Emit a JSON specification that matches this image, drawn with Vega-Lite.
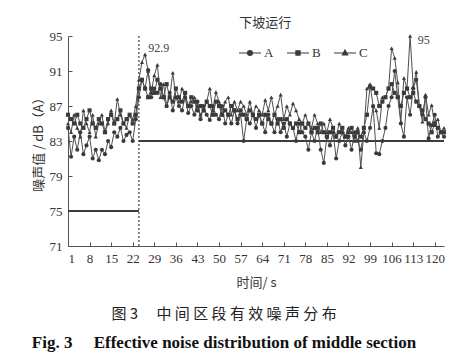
{
"$schema":"https://vega.github.io/schema/vega-lite/v6.json",
"width":376,"height":210,
"autosize":"none",
"padding":{"left":68,"top":36,"right":23,"bottom":110},
"background":"white",
"config":{"view":{"stroke":null},"font":"Liberation Serif",
 "axis":{"grid":false,"tickSize":-4,"labelOverlap":false,"labelFontSize":13,"labelFont":"Liberation Serif","labelColor":"#333","titleFontSize":13,"titleFont":"Noto Sans CJK SC","titleFontWeight":"normal","titleColor":"#333","domainColor":"#555","tickColor":"#555"},
 "axisX":{"labelPadding":10,"titlePadding":11},
 "axisY":{"labelPadding":10,"titlePadding":4}},
"title":{"text":"图 3\u3000 中 间 区 段 有 效 噪 声 分 布","subtitle":"Fig. 3\u2003\u00a0Effective noise distribution of middle section","orient":"bottom","anchor":"middle","frame":"bounds","offset":18,"dx":-15,"font":"Noto Sans CJK SC","fontSize":15,"fontWeight":"normal","color":"#222","subtitleFont":"Liberation Serif","subtitleFontSize":17,"subtitleFontWeight":"bold","subtitleColor":"#111","subtitlePadding":13},
"datasets":{"noise":[
{"t":1,"A":84.5,"B":86,"C":85},{"t":2,"A":81.2,"B":85.5,"C":84},{"t":3,"A":83.5,"B":85,"C":86},{"t":4,"A":82,"B":86,"C":84.5},{"t":5,"A":84,"B":85,"C":83.5},
{"t":6,"A":81.5,"B":84.5,"C":86.5},{"t":7,"A":82.5,"B":85.5,"C":85},{"t":8,"A":83.5,"B":86.5,"C":84},{"t":9,"A":81,"B":85,"C":86},{"t":10,"A":82,"B":84.5,"C":83.5},
{"t":11,"A":80.8,"B":85.5,"C":85},{"t":12,"A":82,"B":85,"C":86},{"t":13,"A":81.5,"B":84,"C":84},{"t":14,"A":83,"B":85.5,"C":85},{"t":15,"A":82.3,"B":86,"C":86.5},
{"t":16,"A":84,"B":85,"C":85},{"t":17,"A":83.5,"B":85.5,"C":87.8},{"t":18,"A":84.5,"B":86.5,"C":86},{"t":19,"A":83,"B":85,"C":85},{"t":20,"A":83.7,"B":85.5,"C":84.5},
{"t":21,"A":84,"B":86,"C":86},{"t":22,"A":83,"B":85,"C":85.5},{"t":23,"A":85.5,"B":86,"C":87},{"t":24,"A":88,"B":89,"C":90},{"t":25,"A":90,"B":90,"C":92},
{"t":26,"A":89,"B":89,"C":92.9},{"t":27,"A":91.1,"B":88,"C":91},{"t":28,"A":88,"B":89,"C":88.5},{"t":29,"A":89,"B":88.5,"C":90.5},{"t":30,"A":88.5,"B":90,"C":91.7},
{"t":31,"A":89.5,"B":89,"C":88},{"t":32,"A":88,"B":88,"C":89.5},{"t":33,"A":87,"B":89.5,"C":87},{"t":34,"A":88.5,"B":88,"C":88},{"t":35,"A":86.5,"B":87.5,"C":90.8},
{"t":36,"A":88,"B":89,"C":88},{"t":37,"A":87,"B":88,"C":87.5},{"t":38,"A":86.5,"B":87.5,"C":89},{"t":39,"A":88,"B":88.5,"C":88},{"t":40,"A":86.2,"B":87,"C":87},
{"t":41,"A":87,"B":88,"C":87.5},{"t":42,"A":86,"B":87.5,"C":88},{"t":43,"A":87.5,"B":86.5,"C":87},{"t":44,"A":85.5,"B":87,"C":86},{"t":45,"A":87,"B":86.5,"C":86.5},
{"t":46,"A":86,"B":87.5,"C":87.5},{"t":47,"A":85.4,"B":87,"C":89},{"t":48,"A":87,"B":86,"C":86.5},{"t":49,"A":86,"B":87.5,"C":88.6},{"t":50,"A":85.5,"B":87,"C":87.5},
{"t":51,"A":87,"B":86,"C":86},{"t":52,"A":85,"B":86.5,"C":87.5},{"t":53,"A":86,"B":86,"C":88},{"t":54,"A":85,"B":87,"C":86},{"t":55,"A":86.5,"B":86.5,"C":87.5},
{"t":56,"A":85,"B":85.5,"C":86.5},{"t":57,"A":86,"B":86.5,"C":87.5},{"t":58,"A":83,"B":86,"C":87},{"t":59,"A":85.5,"B":85.5,"C":86},{"t":60,"A":85,"B":86.5,"C":87.5},
{"t":61,"A":86,"B":86,"C":86},{"t":62,"A":84.5,"B":85.5,"C":87},{"t":63,"A":86,"B":86,"C":86.5},{"t":64,"A":85,"B":85,"C":86},{"t":65,"A":84,"B":86,"C":87.7},
{"t":66,"A":86,"B":85.5,"C":86.5},{"t":67,"A":85,"B":85,"C":88},{"t":68,"A":84,"B":86,"C":86},{"t":69,"A":85.5,"B":85,"C":87},{"t":70,"A":84,"B":85.5,"C":88.3},
{"t":71,"A":85,"B":84.5,"C":85.5},{"t":72,"A":83.5,"B":85.5,"C":87},{"t":73,"A":85,"B":85,"C":86},{"t":74,"A":84.5,"B":84.5,"C":87.3},{"t":75,"A":83,"B":85,"C":86.5},
{"t":76,"A":85,"B":84,"C":85.5},{"t":77,"A":84,"B":85,"C":85},{"t":78,"A":83.5,"B":84.5,"C":86},{"t":79,"A":82,"B":85,"C":85},{"t":80,"A":84,"B":84,"C":84.5},
{"t":81,"A":83,"B":84.5,"C":86},{"t":82,"A":84.5,"B":84,"C":85},{"t":83,"A":82,"B":85,"C":84},{"t":84,"A":80.5,"B":84,"C":85},{"t":85,"A":83.5,"B":83.5,"C":84},
{"t":86,"A":82.5,"B":84,"C":85.5},{"t":87,"A":84,"B":84.5,"C":84.5},{"t":88,"A":81,"B":83.5,"C":83.5},{"t":89,"A":83,"B":84,"C":85},{"t":90,"A":84,"B":84.5,"C":84},
{"t":91,"A":82.5,"B":83.5,"C":83.5},{"t":92,"A":83.5,"B":84,"C":84.5},{"t":93,"A":82,"B":84.5,"C":84},{"t":94,"A":84,"B":83.5,"C":83},{"t":95,"A":83,"B":84,"C":84.5},
{"t":96,"A":82,"B":83.5,"C":80},{"t":97,"A":84,"B":84.5,"C":84},{"t":98,"A":83,"B":86,"C":89},{"t":99,"A":84.5,"B":89.2,"C":89.5},{"t":100,"A":87,"B":89,"C":87},
{"t":101,"A":81.6,"B":88.5,"C":86.5},{"t":102,"A":81.5,"B":87,"C":84.5},{"t":103,"A":83,"B":87.5,"C":88},{"t":104,"A":84.5,"B":88,"C":88},{"t":105,"A":87,"B":89,"C":89},
{"t":106,"A":88,"B":89.5,"C":93.6},{"t":107,"A":91,"B":88.5,"C":92.5},{"t":108,"A":88,"B":88,"C":89.7},{"t":109,"A":85,"B":87,"C":85.2},{"t":110,"A":83.5,"B":88.5,"C":90.2},
{"t":111,"A":88,"B":89,"C":89},{"t":112,"A":86,"B":88,"C":95},{"t":113,"A":89,"B":88.5,"C":89.2},{"t":114,"A":90,"B":87.5,"C":90.9},{"t":115,"A":87,"B":87,"C":87},
{"t":116,"A":86,"B":86.5,"C":85.2},{"t":117,"A":88,"B":85.5,"C":88.3},{"t":118,"A":83.3,"B":85,"C":86},{"t":119,"A":84.8,"B":84,"C":87.1},{"t":120,"A":86,"B":85,"C":84.8},
{"t":121,"A":83.5,"B":84.5,"C":85.5},{"t":122,"A":84,"B":84,"C":84},{"t":123,"A":83.5,"B":84,"C":84.5}
]},
"encoding":{
 "x":{"field":"t","type":"quantitative","scale":{"domain":[1,123],"nice":false,"zero":false},
  "axis":{"values":[1,8,15,22,29,36,43,50,57,64,71,78,85,92,99,106,113,120],"title":"时间/ s","labelOverlap":false}},
 "y":{"field":"v","type":"quantitative","scale":{"domain":[71,95],"nice":false,"zero":false},
  "axis":{"values":[71,75,79,83,87,91,95],"title":"噪声值 / dB（A）","labelOverlap":false}}},
"layer":[
{"data":{"values":[{"t":1,"t2":24,"v":75},{"t":24,"t2":123,"v":83}]},
 "mark":{"type":"rule","strokeWidth":2,"color":"#3c3c3c"},
 "encoding":{"x2":{"field":"t2"}}},
{"data":{"values":[{"t":24,"v":71,"v2":95}]},
 "mark":{"type":"rule","strokeWidth":1.2,"strokeDash":[2,2],"color":"#444"},
 "encoding":{"y2":{"field":"v2"}}},
{"data":{"name":"noise"},"transform":[{"fold":["A","B","C"],"as":["s","v"]}],
 "mark":{"type":"line","strokeWidth":1,"color":"#505050"},
 "encoding":{"detail":{"field":"s"}}},
{"data":{"name":"noise"},"transform":[{"fold":["A","B","C"],"as":["s","v"]}],
 "mark":{"type":"point","filled":true,"size":17,"color":"#3a3a3a","opacity":1},
 "encoding":{"shape":{"field":"s","type":"nominal","scale":{"domain":["A","B","C"],"range":["circle","square","triangle-up"]},"legend":null}}},
{"data":{"values":[{"s":"A","t":60,"v":85},{"s":"B","t":60,"v":85},{"s":"C","t":60,"v":85}]},
 "mark":{"type":"point","filled":false,"opacity":0,"strokeWidth":1.2,"color":"#3a3a3a"},
 "encoding":{"shape":{"field":"s","type":"nominal","scale":{"domain":["A","B","C"],"range":[
  "M-1,0L1,0M0.22,0A0.22,0.22,0,1,1,-0.22,0A0.22,0.22,0,1,1,0.22,0M0.165,0A0.165,0.165,0,1,1,-0.165,0A0.165,0.165,0,1,1,0.165,0M0.11,0A0.11,0.11,0,1,1,-0.11,0A0.11,0.11,0,1,1,0.11,0M0.055,0A0.055,0.055,0,1,1,-0.055,0A0.055,0.055,0,1,1,0.055,0",
  "M-1,0L1,0M-0.19,-0.19L0.19,-0.19L0.19,0.19L-0.19,0.19ZM-0.135,-0.135L0.135,-0.135L0.135,0.135L-0.135,0.135ZM-0.08,-0.08L0.08,-0.08L0.08,0.08L-0.08,0.08ZM-0.03,-0.03L0.03,-0.03L0.03,0.03L-0.03,0.03Z",
  "M-1,0L1,0M0,-0.27L0.24,0.17L-0.24,0.17ZM0,-0.19L0.17,0.12L-0.17,0.12ZM0,-0.11L0.1,0.07L-0.1,0.07ZM0,-0.04L0.035,0.025L-0.035,0.025Z"]},
   "legend":{"title":null,"orient":"none","legendX":170,"legendY":5,"direction":"horizontal","symbolSize":484,"symbolStrokeWidth":1.2,"symbolStrokeColor":"#3a3a3a","symbolOpacity":1,"labelFont":"Liberation Serif","labelFontSize":13,"labelColor":"#333","labelOffset":2,"columnPadding":10}}}},
{"data":{"values":[{"t":27,"v":93.6,"label":"92.9"},{"t":114.5,"v":94.5,"label":"95"}]},
 "mark":{"type":"text","align":"left","baseline":"middle","fontSize":12,"font":"Liberation Serif","color":"#444"},
 "encoding":{"text":{"field":"label"}}},
{"data":{"values":[{"t":65,"v":96.5,"label":"下坡运行"}]},
 "mark":{"type":"text","align":"center","baseline":"middle","fontSize":13,"font":"Noto Sans CJK SC","color":"#333"},
 "encoding":{"text":{"field":"label"}}}
],
"resolve":{"scale":{"shape":"independent"}}
}
